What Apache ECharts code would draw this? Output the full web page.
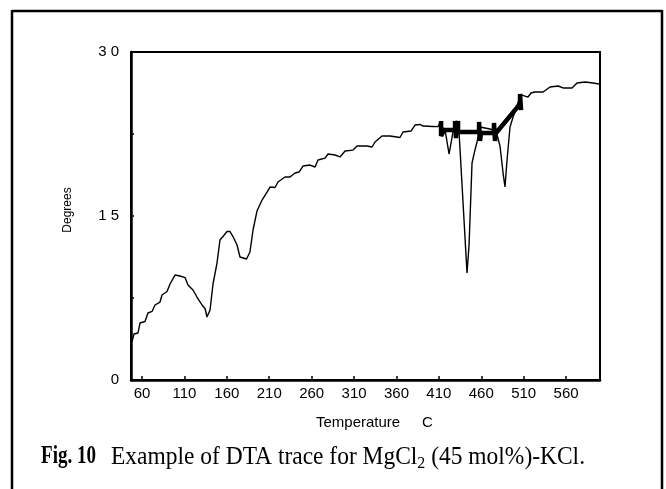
<!DOCTYPE html>
<html>
<head>
<meta charset="utf-8">
<script src="https://cdn.jsdelivr.net/npm/echarts@6/dist/echarts.min.js"></script>
<style>
  html, body { margin: 0; padding: 0; background: #fff; }
  #chart { width: 666px; height: 489px; }
</style>
</head>
<body>
<div id="chart"></div>
<script>
// DTA trace: temperature (C) against differential reading (degrees)
const temperature = [
  48.2, 50.5, 55.3, 57.6, 63.5, 67.0, 71.8, 75.3, 81.2, 83.6,
  89.5, 93.0, 98.9, 104.8, 110.7, 114.2, 120.1, 124.8, 130.7, 134.3,
  136.6, 140.2, 143.7, 148.4, 151.9, 155.5, 160.2, 163.7, 167.3, 172.0,
  175.5, 183.2, 187.3, 190.9, 195.6, 201.5, 207.4, 210.9, 216.8, 220.3,
  228.6, 234.5, 240.4, 245.1, 249.8, 258.1, 264.0, 267.5, 275.8, 279.3,
  287.6, 293.5, 299.4, 308.8, 313.5, 325.3, 331.2, 334.7, 343.0, 352.4,
  364.2, 367.7, 377.2, 381.9, 387.8, 391.3, 403.1, 409.0, 411.4, 413.8,
  417.3, 422.0, 425.6, 427.9, 431.4, 433.8, 443.2, 445.6, 449.1, 452.6,
  455.0, 458.5, 470.3, 477.4, 482.1, 485.7, 488.0, 490.4, 493.9, 497.5,
  505.7, 508.1, 515.1, 518.7, 523.4, 532.8, 541.1, 550.5, 556.4, 567.0,
  572.9, 582.4, 591.8, 598.8
];
const degrees = [
  3.48, 4.21, 4.30, 5.21, 5.35, 6.13, 6.27, 6.86, 7.13, 7.77,
  8.09, 8.78, 9.60, 9.51, 9.37, 8.69, 8.23, 7.59, 6.86, 6.54,
  5.76, 6.40, 8.78, 10.70, 12.80, 13.12, 13.58, 13.58, 13.12, 12.35,
  11.25, 11.07, 11.71, 13.72, 15.46, 16.46, 17.19, 17.65, 17.61, 18.11,
  18.57, 18.57, 18.93, 19.02, 19.57, 19.66, 19.48, 20.12, 20.30, 20.67,
  20.58, 20.40, 20.94, 21.03, 21.40, 21.40, 21.31, 21.77, 22.32, 22.32,
  22.18, 22.68, 22.77, 23.32, 23.37, 23.23, 23.19, 23.17, 23.60, 23.14,
  22.87, 20.67, 22.22, 23.23, 23.05, 22.68, 9.79, 12.35, 19.85, 21.04,
  21.77, 23.14, 22.96, 22.77, 21.40, 18.93, 17.65, 20.12, 23.14, 24.05,
  25.88, 26.06, 25.88, 26.25, 26.34, 26.34, 26.80, 26.89, 26.71, 26.71,
  27.16, 27.25, 27.16, 27.07
];

// heavy pen trace across the melting region
const penTemperature = [
  412.6, 412.6, 416.1, 429.1, 429.1, 430.2, 432.6, 432.6, 457.4, 457.4,
  458.5, 459.7, 475.0, 475.0, 476.2, 477.4, 505.7, 505.7, 506.9
];
const penDegrees = [
  23.69, 22.32, 22.87, 22.87, 23.69, 22.13, 23.69, 22.68, 22.68, 23.60,
  21.86, 22.59, 22.59, 23.51, 21.86, 22.59, 25.24, 26.16, 24.69
];

const xTicks = [60, 110, 160, 210, 260, 310, 360, 410, 460, 510, 560];
const yTicks = [0, 7.5, 15, 22.5, 30];
const yLabelValues = [0, 15, 30];
const yLabelText = { 0: '0', 15: '1 5', 30: '3 0' };

const sans = '"Liberation Sans", Arial, Helvetica, sans-serif';
const serif = '"Liberation Serif", "Times New Roman", serif';

const zip = (xs, ys) => xs.map((x, i) => [x, ys[i]]);

// caption: set in a condensed serif, pieces placed from measured widths
const ctx = document.createElement('canvas').getContext('2d');
function widthOf(text, font) { ctx.font = font; return ctx.measureText(text).width; }
const capFont = '25px ' + serif;
const capBold = 'bold 25px ' + serif;
const subFont = '17px ' + serif;
const capY = 457;
const capX0 = 41;
const capBoldWidth = 55;
const capX1 = 111;
const capX2 = 585;
const part1 = 'Example of DTA trace for MgCl';
const part2 = '2';
const part3 = ' (45 mol%)-KCl.';
const w1 = widthOf(part1, capFont);
const w2 = widthOf(part2, subFont);
const w3 = widthOf(part3, capFont);
const sx = (capX2 - capX1) / (w1 + w2 + w3);
const sxBold = capBoldWidth / widthOf('Fig. 10', capBold);
const x2 = capX1 + w1 * sx;
const x3 = x2 + w2 * sx;

const chart = echarts.init(document.getElementById('chart'), null, { renderer: 'canvas' });
chart.setOption({
  animation: false,
  backgroundColor: '#fff',
  grid: {
    left: 131, right: 66, top: 52, bottom: 109,
    show: true, borderColor: '#000', borderWidth: 2, backgroundColor: 'transparent'
  },
  xAxis: {
    type: 'value', min: 47, max: 600,
    axisLine: { show: true, onZero: false, lineStyle: { color: '#000', width: 2.5 } },
    axisTick: { show: true, inside: true, length: 4, customValues: xTicks, lineStyle: { color: '#000', width: 1.5 } },
    axisLabel: { customValues: xTicks, color: '#000', fontFamily: sans, fontSize: 15, margin: 6 },
    splitLine: { show: false }
  },
  yAxis: {
    type: 'value', min: 0, max: 30,
    axisLine: { show: true, onZero: false, lineStyle: { color: '#000', width: 2.5 } },
    axisTick: { show: true, inside: true, length: 3, customValues: yTicks, lineStyle: { color: '#000', width: 1.5 } },
    axisLabel: {
      customValues: yLabelValues, color: '#000', fontFamily: sans, fontSize: 15, margin: 12,
      formatter: v => yLabelText[v] !== undefined ? yLabelText[v] : ''
    },
    splitLine: { show: false }
  },
  series: [
    {
      type: 'line', data: zip(temperature, degrees), showSymbol: false, silent: true,
      lineStyle: { color: '#000', width: 1.4 }
    },
    {
      type: 'line', data: zip(penTemperature, penDegrees), showSymbol: false, silent: true,
      lineStyle: { color: '#000', width: 4.5, join: 'bevel' }
    }
  ],
  graphic: [
    // page frame
    { type: 'line', shape: { x1: 12, y1: 11, x2: 662, y2: 11 }, style: { stroke: '#000', lineWidth: 2.5 } },
    { type: 'line', shape: { x1: 12, y1: 10, x2: 12, y2: 489 }, style: { stroke: '#000', lineWidth: 2.5 } },
    { type: 'line', shape: { x1: 662, y1: 10, x2: 662, y2: 489 }, style: { stroke: '#000', lineWidth: 2.5 } },
    // axis titles
    { type: 'text', x: 68, y: 210, rotation: Math.PI / 2,
      style: { text: 'Degrees', font: '12px ' + sans, fill: '#000', align: 'center', verticalAlign: 'middle' } },
    { type: 'text', x: 316, y: 423,
      style: { text: 'Temperature', font: '15px ' + sans, fill: '#000', align: 'left', verticalAlign: 'middle' } },
    { type: 'text', x: 422, y: 423,
      style: { text: 'C', font: '15px ' + sans, fill: '#000', align: 'left', verticalAlign: 'middle' } },
    // caption
    { type: 'text', x: capX0, y: capY, scaleX: sxBold,
      style: { text: 'Fig. 10', font: capBold, fill: '#000', align: 'left', verticalAlign: 'middle' } },
    { type: 'text', x: capX1, y: capY, scaleX: sx,
      style: { text: part1, font: capFont, fill: '#000', align: 'left', verticalAlign: 'middle' } },
    { type: 'text', x: x2, y: capY + 7, scaleX: sx,
      style: { text: part2, font: subFont, fill: '#000', align: 'left', verticalAlign: 'middle' } },
    { type: 'text', x: x3, y: capY, scaleX: sx,
      style: { text: part3, font: capFont, fill: '#000', align: 'left', verticalAlign: 'middle' } }
  ]
});
</script>
</body>
</html>
